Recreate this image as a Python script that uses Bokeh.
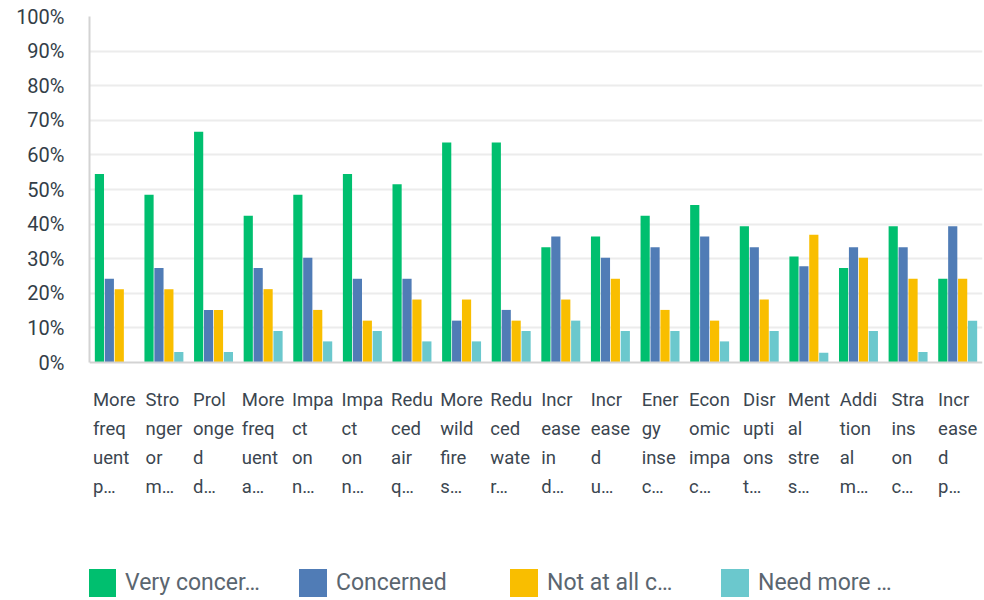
from bokeh.plotting import figure
from bokeh.models import Range1d, Label, Legend, LegendItem, FixedTicker, ColumnDataSource, Span
from bokeh.transform import dodge
from bokeh.embed import file_html
from bokeh.resources import INLINE

# ---- data ----
categories = [
    "More\nfreq\nuent\np…", "Stro\nnger\nor\nm…", "Prol\nonge\nd\nd…",
    "More\nfreq\nuent\na…", "Impa\nct\non\nn…", "Impa\nct\non\nn…",
    "Redu\nced\nair\nq…", "More\nwild\nfire\ns…", "Redu\nced\nwate\nr…",
    "Incr\nease\nin\nd…", "Incr\nease\nd\nu…", "Ener\ngy\ninse\nc…",
    "Econ\nomic\nimpa\nc…", "Disr\nupti\nons\nt…", "Ment\nal\nstre\ns…",
    "Addi\ntion\nal\nm…", "Stra\nins\non\nc…", "Incr\nease\nd\np…",
]
series_names = ["Very concer…", "Concerned", "Not at all c…", "Need more …"]
very_concerned = [54.5, 48.5, 66.7, 42.4, 48.5, 54.5, 51.5, 63.6, 63.6, 33.3, 36.4, 42.4, 45.5, 39.4, 30.6, 27.3, 39.4, 24.2]
concerned = [24.2, 27.3, 15.2, 27.3, 30.3, 24.2, 24.2, 12.1, 15.2, 36.4, 30.3, 33.3, 36.4, 33.3, 27.8, 33.3, 33.3, 39.4]
not_at_all = [21.2, 21.2, 15.2, 21.2, 15.2, 12.1, 18.2, 18.2, 12.1, 18.2, 24.2, 15.2, 12.1, 18.2, 36.9, 30.3, 24.2, 24.2]
need_more = [0.0, 3.0, 3.0, 9.1, 6.1, 9.1, 6.1, 6.1, 9.1, 12.1, 9.1, 9.1, 6.1, 9.1, 2.8, 9.1, 3.0, 12.1]
y_ticks = [0, 10, 20, 30, 40, 50, 60, 70, 80, 90, 100]
y_tick_labels = ["0%", "10%", "20%", "30%", "40%", "50%", "60%", "70%", "80%", "90%", "100%"]

colors = ["#00bf6f", "#507cb6", "#f9be00", "#6bc8cd"]
offsets = [-0.3, -0.1, 0.1, 0.3]

W, H = 984, 600
TOP, LEFT, RIGHT, BOTTOM = 16, 89, 2, 2
DATA_H = 346.0  # pixels from 0% to 100%
px_per_unit = DATA_H / 100.0
frame_h = H - TOP - BOTTOM
y_min = -(frame_h - DATA_H) / px_per_unit

source = ColumnDataSource(dict(
    idx=list(range(len(categories))),
    s0=very_concerned, s1=concerned, s2=not_at_all, s3=need_more,
))

p = figure(width=W, height=H, output_backend="svg", toolbar_location=None,
           x_range=Range1d(-0.5, len(categories) - 0.5), y_range=Range1d(y_min, 100),
           min_border_left=LEFT, min_border_right=RIGHT, min_border_top=TOP,
           min_border_bottom=BOTTOM)
p.outline_line_color = None
p.background_fill_color = "white"

renderers = []
for k in range(4):
    r = p.vbar(x=dodge("idx", offsets[k], range=p.x_range), top="s%d" % k, bottom=0,
               width=0.185, source=source, fill_color=colors[k], line_color=None)
    renderers.append(r)

# grid
p.xgrid.visible = False
p.ygrid.grid_line_color = "#ececec"
p.ygrid.grid_line_width = 2
p.ygrid.ticker = FixedTicker(ticks=y_ticks[1:])

# y axis
ya = p.yaxis[0]
ya.ticker = FixedTicker(ticks=y_ticks)
ya.bounds = (0, 100)
ya.major_label_overrides = {t: l for t, l in zip(y_ticks, y_tick_labels)}
ya.major_tick_line_color = None
ya.minor_tick_line_color = None
ya.major_tick_out = 0
ya.major_label_standoff = 25
ya.axis_line_color = "#d3d3d3"
ya.axis_line_width = 2
ya.major_label_text_font = "Roboto"
ya.major_label_text_font_size = "20px"
ya.major_label_text_color = "#333e48"

p.xaxis.visible = False
p.add_layout(Span(location=0, dimension="width", line_color="#d3d3d3", line_width=2))

# category labels (left-aligned lines, block centred in category)
char_w = {
    "a": .544, "b": .561, "c": .523, "d": .564, "e": .530, "f": .347, "g": .561, "h": .551,
    "i": .243, "l": .243, "m": .875, "n": .552, "o": .570, "p": .561, "q": .568, "r": .338,
    "s": .516, "t": .327, "u": .551, "w": .751, "y": .473, "M": .873, "S": .594, "P": .631,
    "I": .273, "R": .615, "E": .568, "D": .655, "A": .652, "…": .70,
}
fs = 18.5
def text_w(s):
    return sum(char_w.get(c, 0.55) for c in s) * fs

for i, lbl in enumerate(categories):
    w = max(text_w(line) for line in lbl.split("\n"))
    p.add_layout(Label(x=i, y=0, x_offset=-w / 2, y_offset=-26, text=lbl,
                       text_align="left", text_baseline="top", text_font="Roboto",
                       text_font_size="%.1fpx" % fs, text_color="#3b4650",
                       text_line_height=1.33))

legend = Legend(
    items=[LegendItem(label=n, renderers=[r]) for n, r in zip(series_names, renderers)],
    location=(-5, -2), orientation="horizontal",
    glyph_width=35, glyph_height=35, label_standoff=6, label_width=167, spacing=3,
    padding=0, margin=0, border_line_color=None, background_fill_color=None,
    background_fill_alpha=0,
    label_text_font="Roboto", label_text_font_size="23px", label_text_color="#5b6670",
)
p.add_layout(legend)

open("out.html", "w").write(file_html(p, INLINE))
